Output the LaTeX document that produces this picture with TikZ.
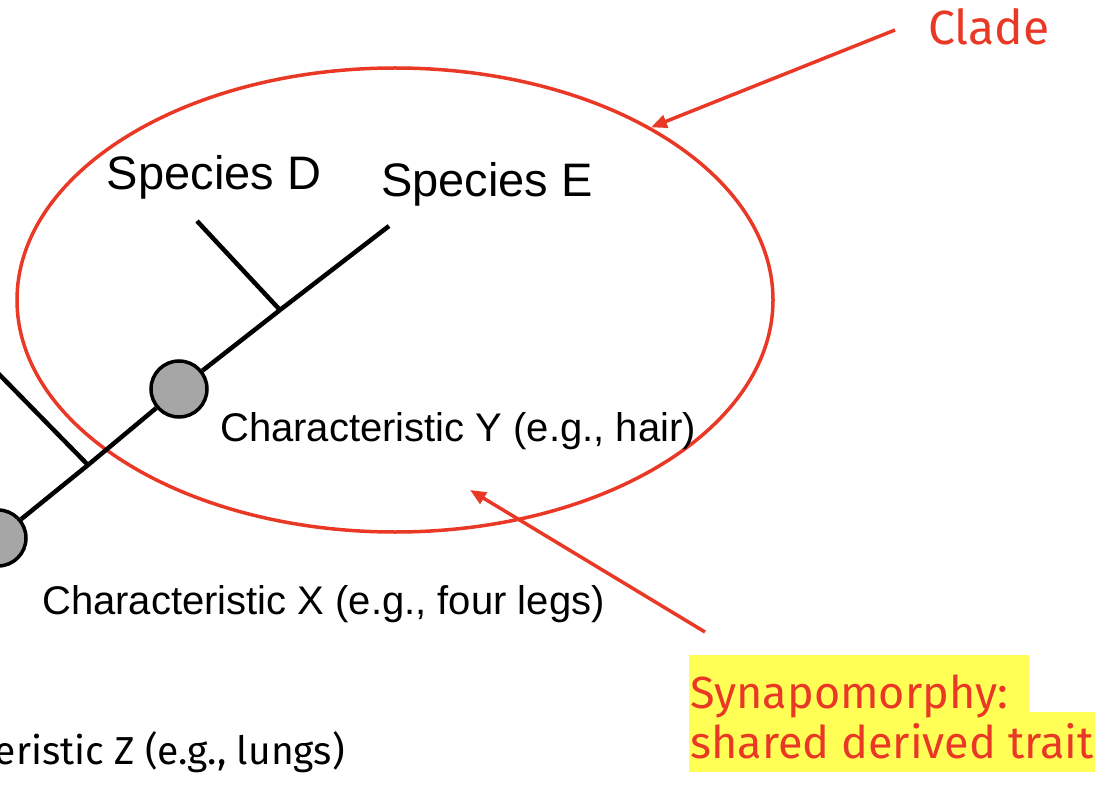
\documentclass[tikz,border=0pt]{standalone}
\usepackage{fontspec}
\setmainfont{Liberation Sans}
\newfontfamily\firafont{Fira Sans}
\usetikzlibrary{arrows.meta,shapes.geometric}
\definecolor{cladered}{RGB}{234,56,38}
\definecolor{markyellow}{RGB}{255,255,85}
\definecolor{traitgray}{RGB}{166,166,166}

\begin{document}
\begin{tikzpicture}[x=1pt,y=-1pt,
  branch/.style={black,line width=4.5pt},
  trait/.style={circle,draw=black,fill=traitgray,line width=3.5pt,
    minimum size=56pt,inner sep=0pt},
  ring/.style={ellipse,draw=cladered,line width=3.5pt,minimum width=756pt,
    minimum height=464pt,inner sep=0pt},
  species/.style={inner sep=0pt,font=\fontsize{47}{56}\selectfont},
  traittext/.style={inner sep=0pt,font=\fontsize{40}{48}\selectfont},
  ztext/.style={inner sep=0pt,font=\firafont\fontsize{39}{48}\selectfont},
  note/.style={inner sep=0pt,text=cladered,font=\firafont\fontsize{45}{54}\selectfont},
  marker/.style={note,fill=markyellow,inner xsep=1pt,inner ysep=0pt},
  pointer/.style={cladered,line width=3.5pt,-{Triangle[length=16pt,width=13pt]}}]
  \useasboundingbox (0,0) rectangle (1108,786);
  \clip (0,0) rectangle (1108,786);
  % clade ring
  \node[ring] (clade) at (395,300) {};
  % tree
  \coordinate (tipL) at (-10,365);
  \coordinate (jL) at (88,465);
  \coordinate (jD) at (280,310);
  \coordinate (tipD) at (197,221);
  \coordinate (tipE) at (389,226);
  \node[trait] (trX) at (-2,538) {};
  \node[trait] (trY) at (179,389) {};
  \draw[branch] (trX) -- (jL) -- (trY) -- (jD) -- (tipE);
  \draw[branch] (tipL) -- (jL);
  \draw[branch] (tipD) -- (jD);
  % labels
  \node[species,anchor=base] (spD) at (214,190) {Species D};
  \node[species,anchor=base] (spE) at (487,197) {Species E};
  \node[traittext,anchor=base west] (lblY) at (220,441) {Characteristic Y (e.g., hair)};
  \node[traittext,anchor=base west] (lblX) at (42,614) {Characteristic X (e.g., four legs)};
  \node[ztext,anchor=base east] (lblZ) at (345,764) {Characteristic Z (e.g., lungs)};
  % clade note
  \node[note,anchor=base west,font=\firafont\fontsize{48}{56}\selectfont] (cladelbl) at (928,45) {Clade};
  \coordinate (cladeTail) at (895,30);
  \draw[pointer] (cladeTail) -- (clade.34);
  % synapomorphy note
  \node[marker,anchor=base west,text height=46pt,text depth=14pt] (synB) at (689,758) {shared derived trait};
  \node[marker,anchor=base west,text height=53pt,text depth=4pt] (synA) at (689,708) {Synapomorphy:\kern20pt};
  \coordinate (synTail) at (705,632);
  \coordinate (synTip) at (470,490);
  \draw[pointer] (synTail) -- (synTip);
\end{tikzpicture}
\end{document}
